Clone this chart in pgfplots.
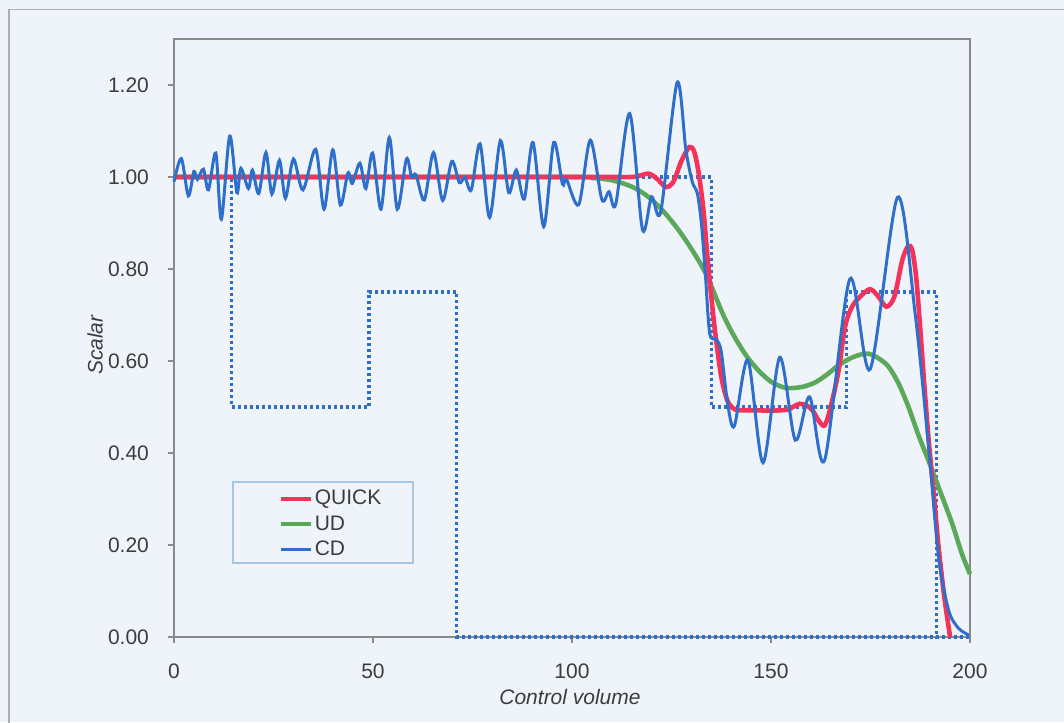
\documentclass[border=0pt]{standalone}
\usepackage{pgfplots}
\pgfplotsset{compat=1.18}
\usepackage{fontspec}
\setmainfont{Liberation Sans}
\definecolor{bgc}{HTML}{EFF4FA}
\definecolor{qred}{HTML}{F5325A}
\definecolor{udgreen}{HTML}{5BA85B}
\definecolor{cdblue}{HTML}{2E6FCB}
\definecolor{axgray}{HTML}{8A8A8A}
\definecolor{txt}{HTML}{3C3C3C}
\definecolor{legbord}{HTML}{A8C4E8}
\begin{document}
\begin{tikzpicture}
\fill[bgc] (-87pt,-42.5pt) rectangle (445pt,318.5pt);
\useasboundingbox (-87pt,-42.5pt) rectangle (445pt,318.5pt);
\draw[axgray!70, line width=0.6pt] (-82.5pt,-50pt) -- (-82.5pt,313.75pt) -- (450pt,313.75pt);
\begin{axis}[
  scale only axis,
  width=398pt, height=299pt,
  xmin=0, xmax=200, ymin=0, ymax=1.3,
  xtick={0,50,100,150,200},
  ytick={0,0.2,0.4,0.6,0.8,1.0,1.2},
  tick pos=left, tick align=outside,
  major tick length=3pt,
  axis line style={axgray, line width=0.6pt},
  tick style={axgray, line width=0.6pt},
  every tick label/.append style={font=\fontsize{10.5}{12}\selectfont, text=txt},
  /pgf/number format/assume math mode=true,
  yticklabel style={/pgf/number format/fixed, /pgf/number format/zerofill, /pgf/number format/precision=2, xshift=-6pt},
  xticklabel style={yshift=-7pt},
  xlabel={\itshape Control volume},
  ylabel={\itshape Scalar},
  xlabel style={at={(axis description cs:0.4975,-0.1003)}, anchor=center, font=\fontsize{10.5}{12}\selectfont, text=txt},
  ylabel style={at={(axis description cs:-0.0992,0.488)}, anchor=center, font=\fontsize{10.5}{12}\selectfont, text=txt},
  clip=false,
  legend cell align=left,
  legend style={draw=none, fill=none, at={(rel axis cs:0.0741,0.2592)}, anchor=north west,
    inner xsep=22.5pt, inner ysep=2.75pt, row sep=2pt,
    font=\fontsize{10.5}{12}\selectfont, text=txt,
    nodes={inner sep=1pt}},
  legend image code/.code={\draw[#1] (0pt,0pt) -- (15pt,0pt);},
]
\draw[legbord, line width=0.6pt] (rel axis cs:0.0741,0.1237) rectangle (rel axis cs:0.3003,0.2592);
\addlegendimage{qred, line width=2.2pt}
\addlegendentry{QUICK}
\addlegendimage{udgreen, line width=2.2pt}
\addlegendentry{UD}
\addlegendimage{cdblue, line width=1.5pt}
\addlegendentry{CD}
% initial profile
\addplot[forget plot, cdblue, line width=1.6pt, dash pattern=on 1.5pt off 1.5pt, const plot mark left]
  coordinates {(0,1) (14.5,0.5) (49,0.75) (71,0) (200,0)};
% exact solution
\addplot[forget plot, cdblue, line width=1.6pt, dash pattern=on 1.5pt off 1.5pt, const plot mark left]
  coordinates {(0,1) (135,0.5) (169,0.75) (191.5,0) (200,0)};
% UD
\addplot[forget plot, udgreen, line width=2.3pt, smooth] coordinates {
(0,1.0) (50,1.0) (100,1.0) (105,0.998) (110,0.993) (115,0.979) (119,0.958) (123,0.925)
(127,0.882) (131,0.83) (134,0.783) (138,0.70) (141,0.65) (144,0.609) (147,0.578)
(150,0.555) (153,0.543) (155,0.541) (158,0.544) (161,0.553) (164,0.57) (167,0.591)
(170,0.606) (172.5,0.614) (174.5,0.616) (177,0.606) (179.5,0.588) (182,0.552)
(184.5,0.501) (187,0.44) (189.5,0.385) (192,0.328) (195.5,0.247) (198,0.18) (200,0.137)};
% QUICK
\addplot[forget plot, qred, line width=2.3pt, smooth] coordinates {
(0,1.0) (50,1.0) (100,1.0) (110,1.0) (115,1.0) (117,1.003) (119.4,1.007) (121.5,0.995)
(123.6,0.978) (125.5,0.99) (127.5,1.035) (129.5,1.065) (130.7,1.055) (131.8,1.01)
(133,0.93) (134,0.83) (135,0.74) (136,0.66) (137.5,0.566) (139,0.515) (140.5,0.497)
(142,0.493) (146,0.493) (150,0.492) (154,0.494) (155.5,0.50) (157.2,0.507) (159,0.503)
(160.5,0.492) (162,0.47) (163.5,0.46) (165,0.50) (167,0.58) (168.6,0.675) (170.5,0.72)
(173,0.745) (175,0.756) (177,0.74) (179,0.718) (181,0.74) (183,0.82) (184.5,0.85)
(185.5,0.84) (186.5,0.78) (187.5,0.67) (188.5,0.55) (189.6,0.43) (191,0.3) (192.1,0.196)
(193.5,0.09) (195,0.0)};
% CD
\addplot[forget plot, cdblue, line width=1.5pt, smooth] coordinates {
(0,0.99) (1.85,1.04) (3.6,0.959) (5.0,1.012) (5.9,0.995) (7.4,1.017) (8.65,0.972)
(10.5,1.052) (11.9,0.908) (14.0,1.089) (15.8,0.966) (16.8,1.019) (18.7,0.975)
(19.7,1.015) (21.3,0.964) (23.1,1.053) (24.6,0.963) (26.5,1.036) (28.0,0.954)
(30.0,1.039) (32.4,0.972) (35.6,1.06) (37.7,0.930) (39.9,1.059) (41.8,0.939)
(43.7,1.009) (44.8,0.986) (46.7,1.030) (48.2,0.975) (49.9,1.052) (52.0,0.930)
(54.1,1.086) (56.1,0.930) (58.4,1.039) (59.7,1.0) (60.8,1.005) (62.9,0.950)
(65.2,1.053) (67.5,0.949) (69.8,1.034) (71.7,0.988) (73.1,0.999) (74.7,0.972)
(76.9,1.072) (79.3,0.912) (82.0,1.079) (84.1,0.966) (86.0,1.015) (88.0,0.952)
(90.2,1.075) (92.9,0.892) (95.4,1.075) (97.6,0.985) (98.6,0.995) (101.7,0.940)
(104.6,1.080) (107.5,0.951) (109.3,0.968) (111,0.941) (114.5,1.138) (117.7,0.886)
(120.0,0.957) (122.3,0.925) (126.4,1.205) (128.6,1.06) (130.2,0.99) (131.5,0.964)
(132.5,0.90) (133.5,0.79) (134.6,0.66) (136.3,0.647) (137.5,0.62) (139.1,0.508)
(140.8,0.459) (144.2,0.602) (148.0,0.379) (152.2,0.608) (156.1,0.428) (159.7,0.522)
(163.5,0.385) (169.8,0.778) (174.9,0.582) (181.8,0.956) (186.2,0.704) (189.6,0.414)
(192.1,0.175) (194.6,0.059) (197,0.02) (199.7,0.004)};
\end{axis}
\end{tikzpicture}
\end{document}
